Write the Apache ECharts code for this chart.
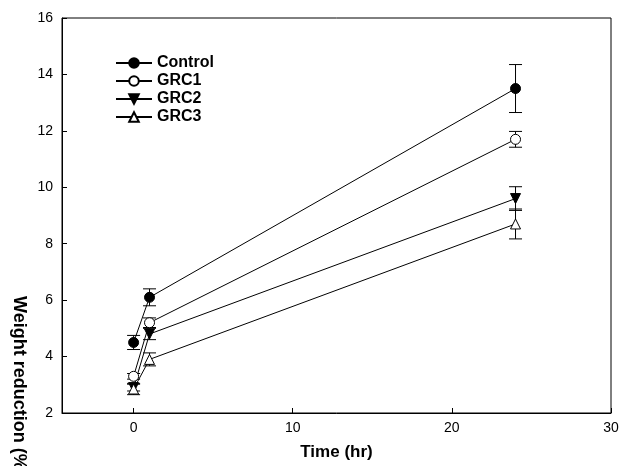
<!DOCTYPE html>
<html>
<head>
<meta charset="utf-8">
<script src="https://cdn.jsdelivr.net/npm/echarts@6/dist/echarts.min.js"></script>
<style>
  html, body { margin: 0; padding: 0; background: #fff; }
  #chart { width: 628px; height: 466px; }
</style>
</head>
<body>
<div id="chart"></div>
<script>
// time points (hr)
var times = [0, 1, 24];

// mean weight reduction and error for each group
var controlMean = [4.5, 6.1, 13.5];
var controlErr = [0.25, 0.3, 0.85];
var grc1Mean = [3.3, 5.2, 11.7];
var grc1Err = [0.1, 0.17, 0.28];
var grc2Mean = [2.9, 4.8, 9.6];
var grc2Err = [0.12, 0.2, 0.42];
var grc3Mean = [2.85, 3.9, 8.7];
var grc3Err = [0.2, 0.23, 0.53];

var xTicks = [0, 10, 20, 30];

var font = '"Liberation Sans", Arial, sans-serif';

function pairs(ys) {
    return times.map(function (t, i) { return [t, ys[i]]; });
}
function errData(ys, es) {
    return times.map(function (t, i) { return [t, ys[i], es[i]]; });
}

function errorBars(data) {
    return {
        type: 'custom',
        data: data,
        z: 1,
        silent: true,
        renderItem: function (params, api) {
            var x = api.value(0), y = api.value(1), e = api.value(2);
            var hi = api.coord([x, y + e]);
            var lo = api.coord([x, y - e]);
            var w = 6.5;
            var st = { stroke: '#000', lineWidth: 1 };
            return {
                type: 'group',
                children: [
                    { type: 'line', shape: { x1: hi[0], y1: hi[1], x2: lo[0], y2: lo[1] }, style: st },
                    { type: 'line', shape: { x1: hi[0] - w, y1: hi[1], x2: hi[0] + w, y2: hi[1] }, style: st },
                    { type: 'line', shape: { x1: lo[0] - w, y1: lo[1], x2: lo[0] + w, y2: lo[1] }, style: st }
                ]
            };
        }
    };
}

function lineSeries(name, ys, symbol, filled, rotate) {
    return {
        name: name,
        type: 'line',
        data: pairs(ys),
        symbol: symbol,
        symbolSize: 10,
        symbolRotate: rotate || 0,
        showAllSymbol: true,
        z: 3,
        lineStyle: { color: '#000', width: 1 },
        itemStyle: { color: filled ? '#000' : '#fff', borderColor: '#000', borderWidth: 1 },
        emphasis: { disabled: true }
    };
}

var chart = echarts.init(document.getElementById('chart'));
chart.setOption({
    animation: false,
    grid: {
        left: 62, right: 17, top: 18, bottom: 52,
        show: true, borderColor: '#000', borderWidth: 1
    },
    legend: {
        orient: 'vertical',
        left: 110, top: 50,
        itemWidth: 36, itemHeight: 12, itemGap: 2,
        textStyle: { fontFamily: font, fontWeight: 'bold', fontSize: 16, color: '#000' },
        data: ['Control', 'GRC1', 'GRC2', 'GRC3']
    },
    xAxis: {
        type: 'value',
        min: -4.5, max: 30,
        name: 'Time (hr)',
        nameLocation: 'middle',
        nameGap: 31,
        nameTextStyle: { fontFamily: font, fontWeight: 'bold', fontSize: 17, color: '#000' },
        splitLine: { show: false },
        axisLine: { onZero: false, lineStyle: { color: '#000' } },
        axisTick: { inside: true, length: 5, customValues: xTicks, lineStyle: { color: '#000' } },
        axisLabel: { customValues: xTicks, margin: 8, fontFamily: font, fontSize: 14, color: '#000' }
    },
    yAxis: {
        type: 'value',
        min: 2, max: 16, interval: 2,
        splitLine: { show: false },
        axisLine: { show: true, onZero: false, lineStyle: { color: '#000' } },
        axisTick: { show: true, inside: true, length: 5, lineStyle: { color: '#000' } },
        axisLabel: { margin: 9, fontFamily: font, fontSize: 14, color: '#000' }
    },
    graphic: [{
        type: 'text',
        x: 19, y: 296,
        rotation: -Math.PI / 2,
        style: {
            text: 'Weight reduction (%)',
            fontFamily: font, fontWeight: 'bold', fontSize: 18, fill: '#000',
            align: 'left', verticalAlign: 'middle'
        }
    }],
    series: [
        errorBars(errData(controlMean, controlErr)),
        errorBars(errData(grc1Mean, grc1Err)),
        errorBars(errData(grc2Mean, grc2Err)),
        errorBars(errData(grc3Mean, grc3Err)),
        lineSeries('Control', controlMean, 'circle', true),
        lineSeries('GRC1', grc1Mean, 'circle', false),
        lineSeries('GRC2', grc2Mean, 'triangle', true, 180),
        lineSeries('GRC3', grc3Mean, 'triangle', false)
    ]
});
</script>
</body>
</html>
